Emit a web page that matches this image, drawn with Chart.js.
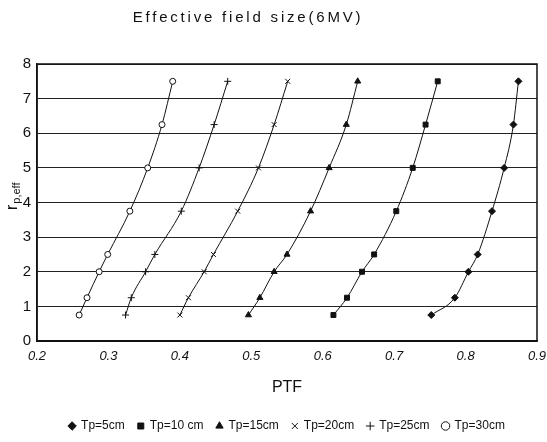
<!DOCTYPE html>
<html><head><meta charset="utf-8">
<script src="https://cdn.jsdelivr.net/npm/chart.js@4/dist/chart.umd.min.js"></script>
<style>html,body{margin:0;padding:0;background:#fff}#wrap{width:547px;height:442px}</style>
</head><body><div id="wrap"><canvas id="c" width="547" height="442"></canvas></div>
<script>
const chartTitle = "Effective field size(6MV)";
const xTitle = "PTF";
const yValues = [0.75, 1.25, 2, 2.5, 3.75, 5, 6.25, 7.5];
const seriesNames = ["Tp=5cm", "Tp=10 cm", "Tp=15cm", "Tp=20cm", "Tp=25cm", "Tp=30cm"];
const tp5  = [0.752, 0.785, 0.804, 0.817, 0.837, 0.854, 0.867, 0.874];
const tp10 = [0.615, 0.634, 0.655, 0.672, 0.703, 0.726, 0.744, 0.761];
const tp15 = [0.496, 0.512, 0.532, 0.550, 0.583, 0.609, 0.633, 0.649];
const tp20 = [0.400, 0.412, 0.434, 0.447, 0.481, 0.510, 0.532, 0.551];
const tp25 = [0.324, 0.332, 0.352, 0.365, 0.402, 0.427, 0.448, 0.467];
const tp30 = [0.259, 0.270, 0.287, 0.299, 0.330, 0.355, 0.375, 0.390];
const pointStyles = ["rectRot", "rect", "triangle", "crossRot", "cross", "circle"];
const xTicks = [0.2, 0.3, 0.4, 0.5, 0.6, 0.7, 0.8, 0.9];
const yTicks = [0, 1, 2, 3, 4, 5, 6, 7, 8];

const allSeries = [tp5, tp10, tp15, tp20, tp25, tp30];
const FONT = "'Liberation Sans', Arial, sans-serif";

const datasets = allSeries.map((s, i) => {
  const open = pointStyles[i] === "circle";
  return {
    label: seriesNames[i],
    data: s.map((x, j) => ({x: x, y: yValues[j]})),
    borderColor: "#111",
    backgroundColor: open ? "#fff" : "#111",
    borderWidth: 1,
    pointStyle: pointStyles[i],
    pointRadius: open ? 3 : 3.5,
    pointBorderColor: "#111",
    pointBackgroundColor: open ? "#fff" : "#111",
    pointBorderWidth: 1,
    cubicInterpolationMode: "monotone",
    fill: false
  };
});

const decor = {
  id: "decor",
  afterDraw(chart) {
    const ctx = chart.ctx;
    ctx.save();
    ctx.fillStyle = "#111";
    ctx.font = "15px " + FONT;
    ctx.textAlign = "center";
    ctx.textBaseline = "middle";
    try { ctx.letterSpacing = "2.8px"; } catch (e) {}
    ctx.fillText(chartTitle, 248, 18);
    try { ctx.letterSpacing = "0px"; } catch (e) {}
    ctx.translate(17, 198);
    ctx.rotate(-Math.PI / 2);
    ctx.textAlign = "left";
    ctx.textBaseline = "alphabetic";
    ctx.font = "16px " + FONT;
    ctx.fillText("r", -12, 0);
    const w = ctx.measureText("r").width;
    ctx.font = "11px " + FONT;
    ctx.fillText("p,eff", -12 + w + 1, 3);
    ctx.restore();
    const a = chart.chartArea;
    ctx.save();
    ctx.strokeStyle = "#111";
    ctx.lineWidth = 1.5;
    ctx.strokeRect(a.left, a.top, a.right - a.left, a.bottom - a.top);
    ctx.restore();
  }
};

new Chart(document.getElementById("c"), {
  type: "line",
  data: { datasets },
  options: {
    responsive: false,
    animation: false,
    layout: { padding: { top: 64, right: 10, left: 0, bottom: 0 } },
    plugins: {
      title: { display: false },
      tooltip: { enabled: false },
      legend: {
        position: "bottom",
        fullSize: false,
        labels: {
          usePointStyle: true,
          boxWidth: 6,
          boxHeight: 6,
          padding: 13,
          color: "#111",
          font: { family: FONT, size: 12 }
        }
      }
    },
    scales: {
      x: {
        type: "linear",
        min: 0.2, max: 0.9,
        afterBuildTicks: (s) => { s.ticks = xTicks.map(v => ({value: v})); },
        afterFit: (s) => { s.height = 66; s.paddingRight = 0; s.paddingLeft = 0; },
        grid: { display: false, drawTicks: false },
        border: { display: true, color: "#111", width: 1.5 },
        ticks: {
          padding: 8,
          color: "#111",
          font: { family: FONT, size: 13, style: "italic" },
          callback: (v) => Number(v).toFixed(1)
        },
        title: {
          display: true, text: xTitle, color: "#111",
          font: { family: FONT, size: 16 },
          padding: { top: 12, bottom: 10 }
        }
      },
      y: {
        min: 0, max: 8,
        afterBuildTicks: (s) => { s.ticks = yTicks.map(v => ({value: v})); },
        afterFit: (s) => { s.width = 37; },
        grid: { color: "#222", lineWidth: 1, drawTicks: false },
        border: { display: true, color: "#111", width: 1.5 },
        ticks: {
          padding: 6,
          color: "#111",
          font: { family: FONT, size: 15 }
        }
      }
    }
  },
  plugins: [decor]
});
</script></body></html>
